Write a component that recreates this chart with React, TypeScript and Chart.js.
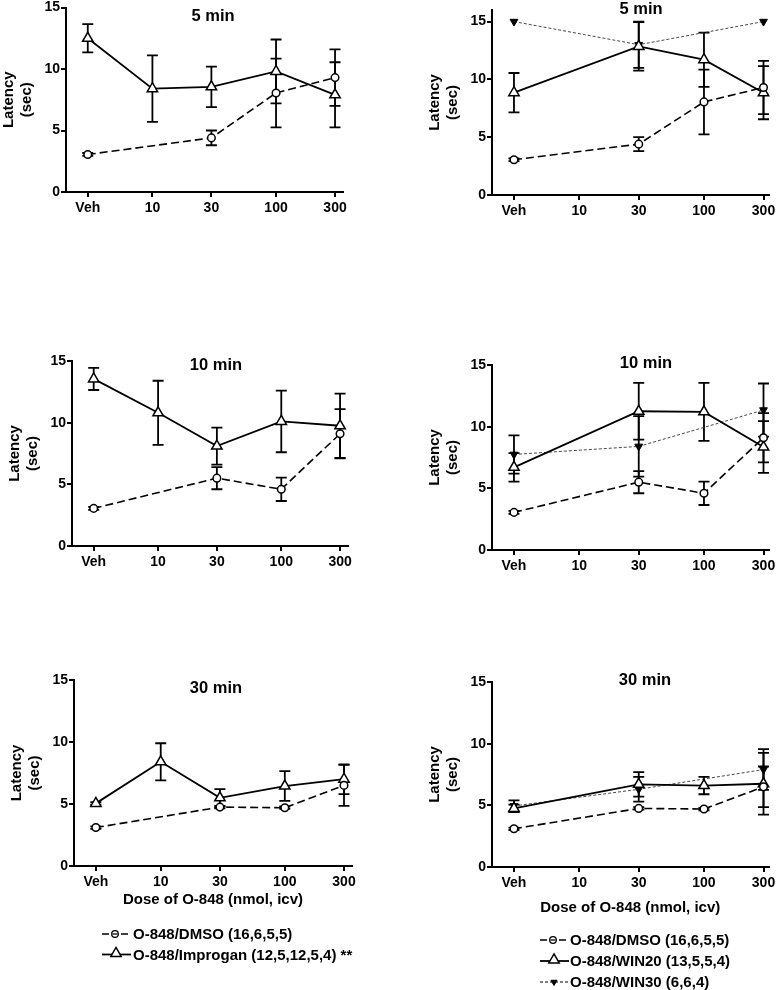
import React, { useEffect, useRef } from "react";
import { Chart, registerables } from "chart.js";

Chart.register(...registerables);

// ---------- data ----------
const doseValues = [3, 10, 30, 100, 300]; // "Veh" plotted at 3 on the log axis
const doseLabels = ["Veh", "10", "30", "100", "300"];
const yTickValues = [0, 5, 10, 15];

const dmso5 = [3.05, null, 4.4, 8.05, 9.3];
const dmso5Err = [0.12, null, 0.6, 2.8, 2.3];
const dmso10 = [3.05, null, 5.5, 4.6, 9.1];
const dmso10Err = [0.12, null, 0.9, 0.95, 2.0];
const dmso30 = [3.1, null, 4.75, 4.7, 6.5];
const dmso30Err = [0.1, null, 0.1, 0.1, 1.65];

const improgan5 = [12.5, 8.4, 8.55, 9.8, 7.9];
const improgan5Err = [1.15, 2.7, 1.65, 2.6, 2.65];
const improgan10 = [13.55, 10.8, 8.1, 10.1, 9.75];
const improgan10Err = [0.9, 2.6, 1.5, 2.5, 2.6];
const improgan30 = [5.05, 8.4, 5.5, 6.45, 7.0];
const improgan30Err = [0.1, 1.5, 0.7, 1.2, 1.2];

const win20_5 = [8.85, null, 12.85, 11.7, 8.85];
const win20_5Err = [1.7, null, 2.1, 2.35, 2.3];
const win20_10 = [6.7, null, 11.25, 11.2, 8.35];
const win20_10Err = [1.15, null, 2.3, 2.35, 2.1];
const win20_30 = [4.75, null, 6.7, 6.6, 6.75];
const win20_30Err = [0.3, null, 1.0, 0.7, 2.5];

const win30_5 = [15, null, 13, null, 15];
const win30_5Err = [0, null, 2.0, null, 0];
const win30_10 = [7.75, null, 8.4, null, 11.35];
const win30_10Err = [1.55, null, 2.45, null, 2.15];
const win30_30 = [4.95, null, 6.3, null, 7.9];
const win30_30Err = [0.45, null, 1.0, null, 1.65];

const seriesNames = {
  dmso: "O-848/DMSO (16,6,5,5)",
  improgan: "O-848/Improgan (12,5,12,5,4) **",
  win20: "O-848/WIN20 (13,5,5,4)",
  win30: "O-848/WIN30 (6,6,4)",
};

const yTitle = ["Latency", "(sec)"];
const xTitle = "Dose of O-848 (nmol, icv)";

// ---------- styles ----------
const FONT = "'Liberation Sans', Arial, Helvetica, sans-serif";

type Kind = "dmso" | "improgan" | "win20" | "win30";

function styleFor(kind: Kind) {
  if (kind === "dmso") {
    return {
      borderColor: "#000",
      borderWidth: 1.6,
      borderDash: [8, 4],
      pointStyle: "circle",
      pointRadius: 3.8,
      pointBackgroundColor: "#fff",
      pointBorderColor: "#000",
      pointBorderWidth: 1.5,
    };
  }
  if (kind === "win30") {
    return {
      borderColor: "#333",
      borderWidth: 0.9,
      borderDash: [3, 2],
      pointStyle: "triangle",
      pointRotation: 180,
      pointRadius: 4.5,
      pointBackgroundColor: "#000",
      pointBorderColor: "#000",
      pointBorderWidth: 1,
    };
  }
  return {
    borderColor: "#000",
    borderWidth: 1.8,
    borderDash: [],
    pointStyle: "triangle",
    pointRadius: 6,
    pointBackgroundColor: "#fff",
    pointBorderColor: "#000",
    pointBorderWidth: 1.5,
  };
}

type Series = { kind: Kind; values: (number | null)[]; errors: (number | null)[] };

type Panel = {
  title: string;
  series: Series[];
  left: number;
  top: number;
  width: number;
  height: number;
  padTop: number;
  padRight: number;
  padBottom: number;
  xh: number;
  yMax: number;
  xMax: number;
  titleDx: number;
  titleDy: number;
  showXTitle: boolean;
  legend?: { kinds: Kind[]; dx: number; textDx: number; dy: number; step: number };
};

const panels: Panel[] = [
  {
    title: "5 min",
    series: [
      { kind: "dmso", values: dmso5, errors: dmso5Err },
      { kind: "improgan", values: improgan5, errors: improgan5Err },
    ],
    left: 0, top: 0, width: 385, height: 222, padTop: 7, padRight: 42, padBottom: 0, xh: 30,
    yMax: 15, xMax: 348, titleDx: 147, titleDy: 9, showXTitle: false,
  },
  {
    title: "5 min",
    series: [
      { kind: "dmso", values: dmso5, errors: dmso5Err },
      { kind: "win20", values: win20_5, errors: win20_5Err },
      { kind: "win30", values: win30_5, errors: win30_5Err },
    ],
    left: 426, top: 0, width: 350, height: 225, padTop: 10, padRight: 6, padBottom: 0, xh: 30,
    yMax: 16, xMax: 329, titleDx: 149, titleDy: -1, showXTitle: false,
  },
  {
    title: "10 min",
    series: [
      { kind: "dmso", values: dmso10, errors: dmso10Err },
      { kind: "improgan", values: improgan10, errors: improgan10Err },
    ],
    left: 6, top: 347, width: 379, height: 229, padTop: 14, padRight: 37, padBottom: 0, xh: 30,
    yMax: 15, xMax: 348, titleDx: 144, titleDy: 4, showXTitle: false,
  },
  {
    title: "10 min",
    series: [
      { kind: "dmso", values: dmso10, errors: dmso10Err },
      { kind: "win20", values: win20_10, errors: win20_10Err },
      { kind: "win30", values: win30_10, errors: win30_10Err },
    ],
    left: 426, top: 351, width: 350, height: 229, padTop: 14, padRight: 6, padBottom: 0, xh: 30,
    yMax: 15, xMax: 329, titleDx: 154, titleDy: -2, showXTitle: false,
  },
  {
    title: "30 min",
    series: [
      { kind: "dmso", values: dmso30, errors: dmso30Err },
      { kind: "improgan", values: improgan30, errors: improgan30Err },
    ],
    left: 8, top: 666, width: 377, height: 324, padTop: 14, padRight: 33, padBottom: 81, xh: 43,
    yMax: 15, xMax: 348, titleDx: 142, titleDy: 8, showXTitle: true,
    legend: { kinds: ["dmso", "improgan"], dx: 28, textDx: 59, dy: 68, step: 20.5 },
  },
  {
    title: "30 min",
    series: [
      { kind: "dmso", values: dmso30, errors: dmso30Err },
      { kind: "win20", values: win20_30, errors: win20_30Err },
      { kind: "win30", values: win30_30, errors: win30_30Err },
    ],
    left: 426, top: 668, width: 350, height: 322, padTop: 14, padRight: 6, padBottom: 73, xh: 50,
    yMax: 15, xMax: 329, titleDx: 153, titleDy: -2, showXTitle: true,
    legend: { kinds: ["dmso", "win20", "win30"], dx: 48, textDx: 78, dy: 73, step: 21 },
  },
];

// ---------- drawing helpers ----------
function drawTriangle(ctx: CanvasRenderingContext2D, x: number, y: number, r: number, down: boolean, fill: string) {
  const h = r * 1.5;
  const w = r * Math.sqrt(3);
  ctx.beginPath();
  if (!down) {
    ctx.moveTo(x, y - h * 0.6667);
    ctx.lineTo(x + w / 2, y + h * 0.3333);
    ctx.lineTo(x - w / 2, y + h * 0.3333);
  } else {
    ctx.moveTo(x, y + h * 0.6667);
    ctx.lineTo(x + w / 2, y - h * 0.3333);
    ctx.lineTo(x - w / 2, y - h * 0.3333);
  }
  ctx.closePath();
  ctx.fillStyle = fill;
  ctx.fill();
  ctx.stroke();
}

function drawLegendSample(ctx: CanvasRenderingContext2D, kind: Kind, x0: number, y: number) {
  ctx.save();
  ctx.strokeStyle = "#000";
  if (kind === "dmso") {
    ctx.lineWidth = 1.6;
    ctx.beginPath();
    ctx.moveTo(x0, y); ctx.lineTo(x0 + 7, y);
    ctx.moveTo(x0 + 19, y); ctx.lineTo(x0 + 26, y);
    ctx.stroke();
    ctx.lineWidth = 1.3;
    ctx.beginPath();
    ctx.arc(x0 + 13, y, 3.3, 0, Math.PI * 2);
    ctx.fillStyle = "#fff";
    ctx.fill();
    ctx.stroke();
    ctx.beginPath();
    ctx.moveTo(x0 + 10.5, y); ctx.lineTo(x0 + 15.5, y);
    ctx.stroke();
  } else if (kind === "win30") {
    ctx.lineWidth = 1;
    ctx.setLineDash([3, 2]);
    ctx.beginPath();
    ctx.moveTo(x0, y); ctx.lineTo(x0 + 28, y);
    ctx.stroke();
    ctx.setLineDash([]);
    drawTriangle(ctx, x0 + 14, y, 3.5, true, "#000");
  } else {
    ctx.lineWidth = 1.8;
    ctx.beginPath();
    ctx.moveTo(x0, y); ctx.lineTo(x0 + 29, y);
    ctx.stroke();
    ctx.lineWidth = 1.5;
    drawTriangle(ctx, x0 + 14, y - 1, 6, false, "#fff");
  }
  ctx.restore();
}

function makeDecor(panel: Panel) {
  return {
    id: "panelDecor",
    beforeDatasetsDraw(chart: any) {
      const ctx: CanvasRenderingContext2D = chart.ctx;
      const xs = chart.scales.x;
      const ys = chart.scales.y;
      const cap = 5.5;
      ctx.save();
      ctx.strokeStyle = "#000";
      ctx.lineWidth = 1.8;
      ctx.setLineDash([]);
      chart.data.datasets.forEach((ds: any) => {
        ds.data.forEach((p: any, i: number) => {
          const e = ds.errors[i];
          if (p.y == null || !e) return;
          const x = xs.getPixelForValue(p.x);
          const y1 = ys.getPixelForValue(p.y + e);
          const y2 = ys.getPixelForValue(p.y - e);
          ctx.beginPath();
          ctx.moveTo(x, y1); ctx.lineTo(x, y2);
          ctx.moveTo(x - cap, y1); ctx.lineTo(x + cap, y1);
          ctx.moveTo(x - cap, y2); ctx.lineTo(x + cap, y2);
          ctx.stroke();
        });
      });
      ctx.restore();
    },
    afterDraw(chart: any) {
      const ctx: CanvasRenderingContext2D = chart.ctx;
      const area = chart.chartArea;
      ctx.save();
      ctx.fillStyle = "#000";
      ctx.font = `bold 16.5px ${FONT}`;
      ctx.textAlign = "center";
      ctx.textBaseline = "middle";
      ctx.fillText(panel.title, area.left + panel.titleDx, area.top + panel.titleDy);
      if (panel.legend) {
        const lg = panel.legend;
        ctx.font = `bold 15px ${FONT}`;
        ctx.textAlign = "left";
        lg.kinds.forEach((k, i) => {
          const y = area.bottom + lg.dy + i * lg.step;
          drawLegendSample(ctx, k, area.left + lg.dx, y);
          ctx.fillStyle = "#000";
          ctx.fillText(seriesNames[k], area.left + lg.textDx, y + 1);
        });
      }
      ctx.restore();
    },
  };
}

function PanelChart({ panel }: { panel: Panel }) {
  const ref = useRef<HTMLCanvasElement | null>(null);
  useEffect(() => {
    if (!ref.current) return;
    const datasets = panel.series.map((s) => ({
      label: seriesNames[s.kind],
      data: doseValues.map((d, i) => ({ x: d, y: s.values[i] })),
      errors: s.errors,
      spanGaps: true,
      fill: false,
      tension: 0,
      clip: false,
      ...styleFor(s.kind),
    }));
    const chart = new Chart(ref.current, {
      type: "line",
      data: { datasets } as any,
      options: {
        animation: false,
        responsive: false,
        maintainAspectRatio: false,
        devicePixelRatio: 1,
        layout: {
          padding: { left: 0, top: panel.padTop, right: panel.padRight, bottom: panel.padBottom },
        },
        plugins: { legend: { display: false }, tooltip: { enabled: false }, title: { display: false } },
        scales: {
          x: {
            type: "logarithmic",
            min: 2,
            max: panel.xMax,
            afterBuildTicks: (scale: any) => {
              scale.ticks = doseValues.map((v) => ({ value: v }));
            },
            afterFit: (scale: any) => {
              scale.height = panel.xh;
              scale.paddingLeft = 0;
              scale.paddingRight = 0;
            },
            ticks: {
              autoSkip: false,
              maxRotation: 0,
              minRotation: 0,
              padding: 3,
              color: "#000",
              font: { family: FONT, size: 14, weight: "bold" },
              callback: (_v: any, i: number) => doseLabels[i],
            },
            grid: { display: true, drawOnChartArea: false, drawTicks: true, tickLength: 5, color: "#000", lineWidth: 2 },
            border: { display: true, color: "#000", width: 2 },
            title: {
              display: panel.showXTitle,
              text: xTitle,
              color: "#000",
              padding: 0,
              font: { family: FONT, size: 15, weight: "bold", lineHeight: 1.2 },
            },
          },
          y: {
            type: "linear",
            min: 0,
            max: panel.yMax,
            afterBuildTicks: (scale: any) => {
              scale.ticks = yTickValues.map((v) => ({ value: v }));
            },
            afterFit: (scale: any) => {
              scale.width = 66;
              scale.paddingTop = 0;
              scale.paddingBottom = 0;
            },
            ticks: {
              padding: 1,
              color: "#000",
              font: { family: FONT, size: 14, weight: "bold" },
            },
            grid: { display: true, drawOnChartArea: false, drawTicks: true, tickLength: 5, color: "#000", lineWidth: 2 },
            border: { display: true, color: "#000", width: 2 },
            title: {
              display: true,
              text: yTitle,
              color: "#000",
              padding: 0,
              font: { family: FONT, size: 15, weight: "bold", lineHeight: 1.2 },
            },
          },
        },
      } as any,
      plugins: [makeDecor(panel)],
    });
    return () => chart.destroy();
  }, [panel]);
  return (
    <canvas
      ref={ref}
      width={panel.width}
      height={panel.height}
      style={{
        position: "absolute",
        left: panel.left,
        top: panel.top,
        width: panel.width,
        height: panel.height,
      }}
    />
  );
}

export default function App() {
  return (
    <div
      style={{
        position: "absolute",
        left: 0,
        top: 0,
        width: 776,
        height: 990,
        background: "#fff",
        overflow: "hidden",
      }}
    >
      {panels.map((p, i) => (
        <PanelChart key={i} panel={p} />
      ))}
    </div>
  );
}
